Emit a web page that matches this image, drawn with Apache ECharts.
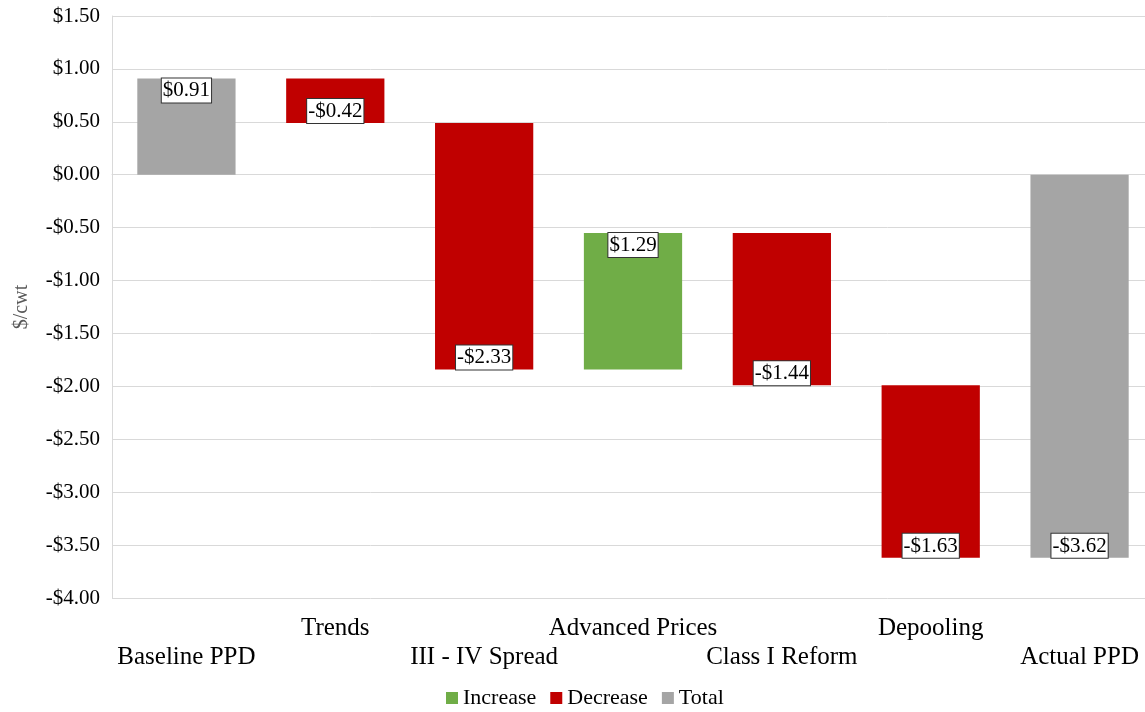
<!DOCTYPE html>
<html><head><meta charset="utf-8">
<script src="https://cdn.jsdelivr.net/npm/echarts@6/dist/echarts.min.js"></script>
<style>html,body{margin:0;padding:0;background:#fff}#c{width:1145px;height:712px}</style>
</head><body><div id="c"></div>
<script>
const categories = ['Baseline PPD','Trends','III - IV Spread','Advanced Prices','Class I Reform','Depooling','Actual PPD'];
const changes = [0.91, -0.42, -2.33, 1.29, -1.44, -1.63, -3.62];
const kinds = ['Total','Decrease','Decrease','Increase','Decrease','Decrease','Total'];
const yTicks = {min: -4, max: 1.5, interval: 0.5};
const colors = {Increase: '#70AD47', Decrease: '#C00000', Total: '#A5A5A5'};

// build start/end for each bar
const rows = [];
let run = 0;
changes.forEach((v, i) => {
  let s, e;
  if (kinds[i] === 'Total') { s = 0; e = v; run = v; }
  else { s = run; e = run + v; run = e; }
  rows.push({i, s, e, v, kind: kinds[i]});
});
const fmt = v => (v < 0 ? '-$' : '$') + Math.abs(v).toFixed(2);
const FONT = '"Liberation Serif","Times New Roman",serif';

function makeSeries(kind) {
  return {
    name: kind, type: 'custom',
    itemStyle: {color: colors[kind]},
    data: rows.filter(r => r.kind === kind).map(r => [r.i, r.s, r.e, r.v]),
    renderItem: function (params, api) {
      const i = api.value(0), s = api.value(1), e = api.value(2), v = api.value(3);
      const p1 = api.coord([i, s]), p2 = api.coord([i, e]);
      const w = api.size([1, 0])[0] * 0.66;
      const top = Math.min(p1[1], p2[1]), h = Math.abs(p1[1] - p2[1]);
      const endAtTop = e > s;
      return {
        type: 'rect',
        shape: {x: p1[0] - w / 2, y: top, width: w, height: h},
        style: {fill: colors[kind]},
        textContent: {
          style: {
            text: fmt(v), fill: '#000', font: '21px ' + FONT,
            backgroundColor: '#fff', borderColor: '#333', borderWidth: 1,
            padding: [2, 1, 1, 1]
          }
        },
        textConfig: {position: endAtTop ? 'insideTop' : 'insideBottom', distance: 0}
      };
    }
  };
}

const chart = echarts.init(document.getElementById('c'), null, {renderer: 'canvas'});
chart.setOption({
  animation: false,
  backgroundColor: '#fff',
  grid: {left: 112, width: 1042, top: 16, height: 582, containLabel: false, outerBoundsMode: 'none'},
  legend: {
    bottom: -2, left: 441, itemWidth: 12, itemHeight: 12, itemGap: 14,
    icon: 'rect',
    textStyle: {fontFamily: FONT, fontSize: 22, color: '#000'},
    data: ['Increase', 'Decrease', 'Total']
  },
  xAxis: {
    type: 'category', data: categories, boundaryGap: true,
    axisLine: {show: true, lineStyle: {color: '#d9d9d9'}},
    axisTick: {show: false},
    axisLabel: {
      interval: 0, margin: 16, lineHeight: 29,
      fontFamily: FONT, fontSize: 25, color: '#000',
      formatter: (val, idx) => idx % 2 === 0 ? '\n' + val : val
    }
  },
  yAxis: {
    type: 'value', min: yTicks.min, max: yTicks.max, interval: yTicks.interval,
    name: '$/cwt', nameLocation: 'middle', nameGap: 80,
    nameTextStyle: {fontFamily: FONT, fontSize: 20, color: '#595959'},
    axisLine: {show: true, lineStyle: {color: '#d9d9d9'}},
    axisTick: {show: false},
    splitLine: {lineStyle: {color: '#d9d9d9', width: 1}},
    axisLabel: {
      margin: 12, fontFamily: FONT, fontSize: 21, color: '#000',
      formatter: v => fmt(v)
    }
  },
  series: [makeSeries('Increase'), makeSeries('Decrease'), makeSeries('Total')]
});
</script></body></html>
